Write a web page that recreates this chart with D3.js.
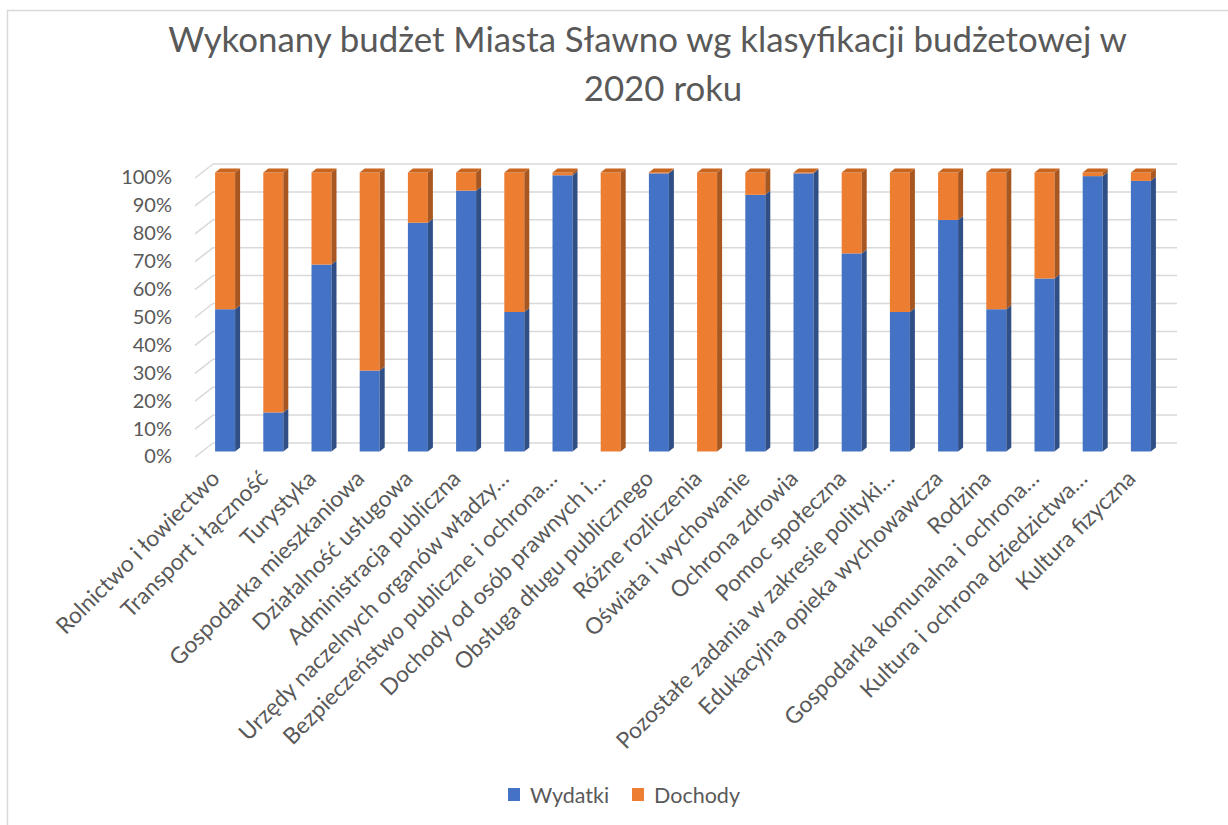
<!DOCTYPE html>
<html><head><meta charset="utf-8">
<script src="https://cdn.jsdelivr.net/npm/d3@7"></script>
<style>
body{margin:0;background:#fff}
svg{display:block}
text{font-family:Lato,"Open Sans",sans-serif;fill:#595959}
</style>
</head><body>
<svg id="c" width="1228" height="825"></svg>
<script>
const categories = [
  "Rolnictwo i łowiectwo","Transport i łączność","Turystyka","Gospodarka mieszkaniowa",
  "Działalność usługowa","Administracja publiczna","Urzędy naczelnych organów władzy…",
  "Bezpieczeństwo publiczne i ochrona…","Dochody od osób prawnych i…","Obsługa długu publicznego",
  "Różne rozliczenia","Oświata i wychowanie","Ochrona zdrowia","Pomoc społeczna",
  "Pozostałe zadania w zakresie polityki…","Edukacyjna opieka wychowawcza","Rodzina",
  "Gospodarka komunalna i ochrona…","Kultura i ochrona dziedzictwa…","Kultura fizyczna"
];
const wydatki = [0.51,0.14,0.67,0.29,0.82,0.935,0.50,0.99,0,0.997,0,0.92,0.997,0.71,0.50,0.83,0.51,0.62,0.987,0.97];
const dochody = [0.49,0.86,0.33,0.71,0.18,0.065,0.50,0.01,1,0.003,1,0.08,0.003,0.29,0.50,0.17,0.49,0.38,0.013,0.03];
const seriesNames = ["Wydatki","Dochody"];
const yTicks = [0,0.1,0.2,0.3,0.4,0.5,0.6,0.7,0.8,0.9,1];
const titleLines = ["Wykonany budżet Miasta Sławno wg klasyfikacji budżetowej w","2020 roku"];

const colors = {
  Wydatki:{front:"#4472c4", side:"#2f4f86", top:"#3a64ad"},
  Dochody:{front:"#ed7d31", side:"#a85720", top:"#c8651f"}
};

const svg = d3.select("#c");

// chart frame
svg.append("rect").attr("x",7.5).attr("y",10.5).attr("width",1240).attr("height",840)
  .attr("fill","none").attr("stroke","#d9d9d9").attr("stroke-width",1.5);

const y = d3.scaleLinear().domain([0,1]).range([451.5,172.5]);
const x = d3.scaleBand().domain(categories).range([201,1165]);
const barW = 20, sdx = 5, sdy = -4;

// gridlines (back wall) + depth stubs
const grid = svg.append("g");
yTicks.forEach(t=>{
  grid.append("line").attr("x1",213).attr("x2",1177)
    .attr("y1",y(t)-8.5).attr("y2",y(t)-8.5)
    .attr("stroke","#d9d9d9").attr("stroke-width",1.5);
  grid.append("line").attr("x1",195).attr("x2",213)
    .attr("y1",y(t)+5.5).attr("y2",y(t)-8.5)
    .attr("stroke","#d9d9d9").attr("stroke-width",1.5);
});

// y axis labels
const yAxis = d3.axisLeft(y).tickValues(yTicks).tickFormat(d3.format(".0%")).tickSize(0);
const ya = svg.append("g").attr("transform","translate(172,5)").call(yAxis);
ya.select(".domain").remove();
ya.selectAll("text").attr("x",0).style("font-size","20px").style("fill","#595959")
  .style("font-family","Lato,'Open Sans',sans-serif");

// stacked data
const rows = categories.map((c,i)=>({cat:c, Wydatki:wydatki[i], Dochody:dochody[i]}));
const stacked = d3.stack().keys(seriesNames).offset(d3.stackOffsetExpand)(rows);

const bars = svg.append("g");
rows.forEach((r,i)=>{
  const bx = x(r.cat) + (x.bandwidth()-barW)/2;
  let topSeg = null;
  stacked.forEach(s=>{
    const [a,b] = s[i];
    if (b - a <= 0) return;
    const col = colors[s.key];
    const y0 = y(a), y1 = y(b);
    bars.append("rect").attr("x",bx).attr("y",y1).attr("width",barW).attr("height",y0-y1)
      .attr("fill",col.front);
    bars.append("polygon").attr("points",[
      [bx+barW,y1],[bx+barW+sdx,y1+sdy],[bx+barW+sdx,y0+sdy],[bx+barW,y0]
    ].map(p=>p.join(",")).join(" ")).attr("fill",col.side);
    topSeg = {col, y1};
  });
  if (topSeg){
    bars.append("polygon").attr("points",[
      [bx,topSeg.y1],[bx+sdx,topSeg.y1+sdy],[bx+barW+sdx,topSeg.y1+sdy],[bx+barW,topSeg.y1]
    ].map(p=>p.join(",")).join(" ")).attr("fill",topSeg.col.top);
  }
});

// category labels
const xl = svg.append("g");
categories.forEach(c=>{
  xl.append("text")
    .attr("transform",`translate(${x(c)+x.bandwidth()/2-4},480) rotate(-45)`)
    .attr("text-anchor","end")
    .style("font-size","22.7px")
    .text(c);
});

// title
function fit(sel, w){
  const n = sel.node(); const fs = parseFloat(sel.style("font-size"));
  const len = n.getComputedTextLength();
  sel.style("font-size",(fs*w/len)+"px");
}
const t1 = svg.append("text").attr("x",647.5).attr("y",52).attr("text-anchor","middle")
  .style("font-size","27px").text(titleLines[0]);
fit(t1, 959);
const t2 = svg.append("text").attr("x",663).attr("y",101).attr("text-anchor","middle")
  .style("font-size",t1.style("font-size")).text(titleLines[1]);

// legend
const lg = svg.append("g");
const legX = [508,632];
seriesNames.forEach((n,i)=>{
  lg.append("rect").attr("x",legX[i]).attr("y",788).attr("width",12).attr("height",13)
    .attr("fill",colors[n].front);
  lg.append("text").attr("x",legX[i]+22).attr("y",795).attr("dy","0.35em")
    .style("font-size","21.5px").text(n);
});
</script>
</body></html>
